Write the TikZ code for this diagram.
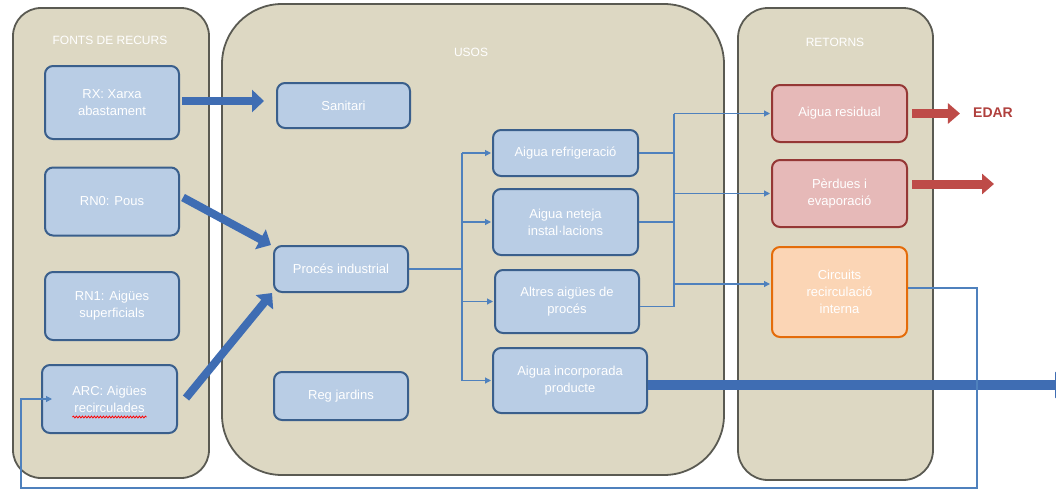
\documentclass[tikz,border=0pt]{standalone}
\usepackage{fontspec}
\setmainfont{Liberation Sans}
\usetikzlibrary{arrows.meta,decorations.pathmorphing}
\definecolor{panelfill}{HTML}{DDD8C3}
\definecolor{paneldraw}{HTML}{5A5A52}
\definecolor{bluefill}{HTML}{B9CDE5}
\definecolor{bluedraw}{HTML}{3A5F8C}
\definecolor{redfill}{HTML}{E6B9B8}
\definecolor{reddraw}{HTML}{953735}
\definecolor{orfill}{HTML}{FBD5B5}
\definecolor{ordraw}{HTML}{E46C0A}
\definecolor{conncol}{HTML}{4F81BD}
\definecolor{thickcol}{HTML}{3F6DB3}
\definecolor{redarrow}{HTML}{BE4B48}
\definecolor{edarcol}{HTML}{B0403D}
\begin{document}
\begin{tikzpicture}[x=1pt,y=-1pt,
  panel/.style={draw=paneldraw, line width=1.8pt, fill=panelfill, rounded corners=#1, inner sep=0pt},
  paneltitle/.style={text=white, font=\fontsize{12}{14}\selectfont, inner sep=0pt},
  boxbase/.style={line width=2pt, rounded corners=8pt, text=white, align=center,
    font=\fontsize{13}{17}\selectfont, inner sep=0pt},
  bluebox/.style={boxbase, draw=bluedraw, fill=bluefill},
  redbox/.style={boxbase, draw=reddraw, fill=redfill},
  orbox/.style={boxbase, draw=ordraw, fill=orfill},
  conn/.style={draw=conncol, line width=1.1pt},
  connarrow/.style={conn, -{Triangle[width=6pt,length=6pt]}},
  thickarrow/.style={draw=thickcol, line width=8pt, -{Triangle[width=22pt,length=12pt]}},
  bigarrow/.style={draw=thickcol, line width=10pt, -{Triangle[width=26pt,length=14pt]}},
  redthick/.style={draw=redarrow, line width=9pt, -{Triangle[width=20pt,length=12pt]}}
]
\useasboundingbox (0,0) rectangle (1056,490);

% panels
\node[panel=28pt, minimum width=196pt, minimum height=470pt] (pfonts) at (111,243) {};
\node[panel=60pt, minimum width=502pt, minimum height=471pt] (pusos) at (473,239.5) {};
\node[panel=30pt, minimum width=195pt, minimum height=472pt] (pret) at (835.5,244) {};

\node[paneltitle] (tfonts) at (110,40) {FONTS DE RECURS};
\node[paneltitle] (tusos) at (471,52) {USOS};
\node[paneltitle] (tret) at (835,42) {RETORNS};

% sources
\node[bluebox, minimum width=134pt, minimum height=73pt] (rx) at (112,102.5) {RX: Xarxa\\abastament};
\node[bluebox, minimum width=134pt, minimum height=68pt] (rn0) at (112,201.5) {RN0: Pous};
\node[bluebox, minimum width=134pt, minimum height=68pt] (rn1) at (112,306) {RN1: Aigües\\superficials};
\node[bluebox, minimum width=135pt, minimum height=68pt] (arc) at (109.5,399) {ARC: Aigües\\recirculades};
\draw[red, line width=0.8pt, decorate, decoration={snake, amplitude=0.9pt, segment length=3pt}]
  ([xshift=-37pt,yshift=-18pt]arc.center) -- ([xshift=37pt,yshift=-18pt]arc.center);

% uses
\node[bluebox, minimum width=133pt, minimum height=45pt] (san) at (343.5,105.5) {Sanitari};
\node[bluebox, minimum width=134pt, minimum height=46pt] (proc) at (341,269) {Procés industrial};
\node[bluebox, minimum width=134pt, minimum height=48pt] (reg) at (341,396) {Reg jardins};
\node[bluebox, minimum width=145pt, minimum height=46pt] (refr) at (565.5,153) {Aigua refrigeració};
\node[bluebox, minimum width=145pt, minimum height=66pt] (net) at (565.5,222) {Aigua neteja\\instal·lacions};
\node[bluebox, minimum width=144pt, minimum height=63pt] (alt) at (567,301.5) {Altres aigües de\\procés};
\node[bluebox, minimum width=154pt, minimum height=65pt] (inc) at (570,380.5) {Aigua incorporada\\producte};

% returns
\node[redbox, minimum width=135pt, minimum height=57pt] (res) at (839.5,113.5) {Aigua residual};
\node[redbox, minimum width=135pt, minimum height=67pt] (perd) at (839.5,193.5) {Pèrdues i\\evaporació};
\node[orbox, minimum width=135pt, minimum height=90pt] (circ) at (839.5,292) {Circuits\\recirculació\\interna};
\node[text=edarcol, font=\fontsize{14}{16}\selectfont\bfseries, inner sep=0pt] (edar) at (993,113) {EDAR};

% thick input arrows
\draw[thickarrow] ([xshift=2pt,yshift=1.5pt]rx.east) -- ([xshift=-12pt,yshift=1.5pt]san.west |- rx.east);
\draw[thickarrow] ([xshift=3pt,yshift=4pt]rn0.east) -- ([xshift=-2pt]proc.north west);
\draw[thickarrow] ([xshift=8pt,yshift=-34pt]arc.north east) -- ([xshift=-1pt]proc.south west);

% split from process
\coordinate (split) at (462,269);
\draw[conn] (proc.east) -- (split);
\draw[conn] (split |- refr.west) -- (split |- inc.west);
\draw[connarrow, shorten >=1pt] (split |- refr.west) -- (refr.west);
\draw[connarrow, shorten >=1pt] (split |- net.west) -- (net.west);
\draw[connarrow, shorten >=1pt] (split |- alt.west) -- (alt.west);
\draw[connarrow, shorten >=1pt] (split |- inc.west) -- (inc.west);

% collector to returns
\coordinate (rsp) at (674,300);
\coordinate (altout) at ([yshift=-5pt]alt.east);
\coordinate (circin) at ([yshift=8pt]circ.west);
\draw[conn] (refr.east) -- (refr.east -| rsp);
\draw[conn] (net.east) -- (net.east -| rsp);
\draw[conn] (altout) -- (altout -| rsp);
\draw[conn] (rsp |- res.west) -- (rsp |- altout);
\draw[connarrow, shorten >=1pt] (rsp |- res.west) -- (res.west);
\draw[connarrow, shorten >=1pt] (rsp |- perd.west) -- (perd.west);
\draw[connarrow, shorten >=1pt] (rsp |- circin) -- (circin);

% product arrow
\draw[bigarrow] ([yshift=-4.5pt]inc.east) -- ++(421,0);

% red outputs
\draw[redthick] ([xshift=4pt]res.east) -- ([xshift=-13pt]edar.west |- res.east);
\draw[redthick] ([xshift=4pt,yshift=9.5pt]perd.east) -- ++(82,0);

% recirculation feedback
\coordinate (circout) at ([yshift=4pt]circ.east);
\coordinate (fbR) at (977,488);
\coordinate (fbL) at (21,488);
\draw[connarrow] (circout) -- (circout -| fbR) -- (fbR) -- (fbL) -- (fbL |- arc.west) -- ([xshift=11pt]arc.west);
\end{tikzpicture}
\end{document}
